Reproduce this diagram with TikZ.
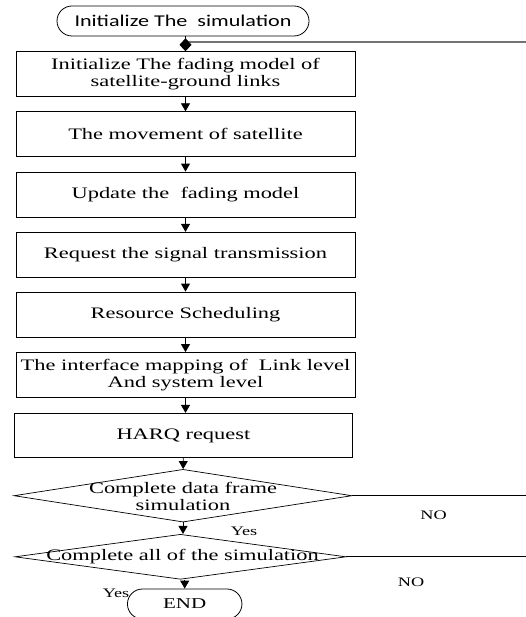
\documentclass[tikz,border=0pt]{standalone}
\usepackage{fontspec}
\setmainfont{Liberation Serif}
\newfontfamily\calib{Carlito}
\usepackage{graphicx}
\usetikzlibrary{arrows.meta,shapes.geometric,shapes.misc}
\newcommand{\sx}[1]{\scalebox{1.4}[1]{#1}}
\begin{document}
\begin{tikzpicture}[x=1pt,y=-1pt,
  box/.style={draw, line width=0.8pt, minimum width=339pt, minimum height=45pt, inner sep=0pt, align=center, font=\fontsize{16}{17}\selectfont},
  decision/.style={draw, diamond, line width=0.7pt, inner sep=0pt},
  dtext/.style={inner sep=0pt, align=center, font=\fontsize{16}{17}\selectfont},
  arr/.style={line width=0.9pt, -{Triangle[width=9pt,length=8pt]}},
  lbl/.style={font=\fontsize{13}{14}\selectfont, inner sep=0pt},
  term/.style={draw, rounded rectangle, line width=0.8pt, inner sep=0pt},
  plain/.style={line width=0.7pt},
  grayline/.style={line width=1.3pt, draw=black!55}
]
\useasboundingbox (0,0) rectangle (526,617);

\node[term, minimum width=252pt, minimum height=30pt, font=\calib\fontsize{16.5}{18}\selectfont] (start) at (183,21) {\scalebox{1.34}[1]{Initialize The\ \ simulation}};

\node[box] (b1) at (185.5,74.2) {\sx{Initialize The fading model of}\\\sx{satellite-ground links}};
\node[box] (b2) at (185.5,134.2) {\sx{The movement of satellite}};
\node[box] (b3) at (185.5,194.5) {\sx{Update the\ \ fading model}};
\node[box] (b4) at (185.5,254.8) {\sx{Request the signal transmission}};
\node[box] (b5) at (185.5,314.5) {\sx{Resource Scheduling}};
\node[box] (b6) at (185.5,375) {\sx{The interface mapping of\ \ Link level}\\\sx{And system level}};
\node[box, minimum width=338.7pt, minimum height=44.4pt] (b7) at (183.4,435.5) {\sx{HARQ request}};

\node[decision, minimum width=338pt, minimum height=52.7pt] (d1) at (183,495.7) {};
\node[dtext] (d1t) at (183,496) {\sx{Complete data frame}\\\sx{simulation}};
\node[decision, minimum width=331pt, minimum height=45pt] (d2) at (180.5,556.8) {};
\node[dtext] (d2t) at (182.5,557) {\sx{Complete all of the simulation}};

\node[term, minimum width=114.5pt, minimum height=30pt, font=\fontsize{15}{16}\selectfont] (endn) at (184.7,604) {\sx{END}};

\node[lbl] (no1) at (433.5,515.7) {\sx{NO}};
\node[lbl] (no2) at (411,582.7) {\sx{NO}};
\node[lbl] (yes1) at (244,531.7) {\sx{Yes}};
\node[lbl] (yes2) at (116,593.5) {\sx{Yes}};

\coordinate (jn) at (186,42);
\coordinate (loopR) at (526,42);
\coordinate (r1) at (526,495.7);
\coordinate (r2) at (526,556.8);

\draw[grayline] (loopR) -- (jn);
\draw[line width=0.9pt, -{Kite[length=13pt,width=12pt,inset=6.5pt]}] (b1.north |- start.south) -- (b1.north);
\draw[arr] (b1) -- (b2);
\draw[arr] (b2) -- (b3);
\draw[arr] (b3) -- (b4);
\draw[arr] (b4) -- (b5);
\draw[arr] (b5) -- (b6);
\draw[arr] (b6.south) -- (b6.south |- b7.north);
\draw[arr] (b7) -- (d1);
\draw[arr] (d1.south) -- (d1.south |- d2.north);
\draw[arr] (endn.north |- d2.south) -- (endn.north);
\draw[plain] (d1.east) -- (r1);
\draw[plain] (d2.east) -- (r2);
\end{tikzpicture}
\end{document}
